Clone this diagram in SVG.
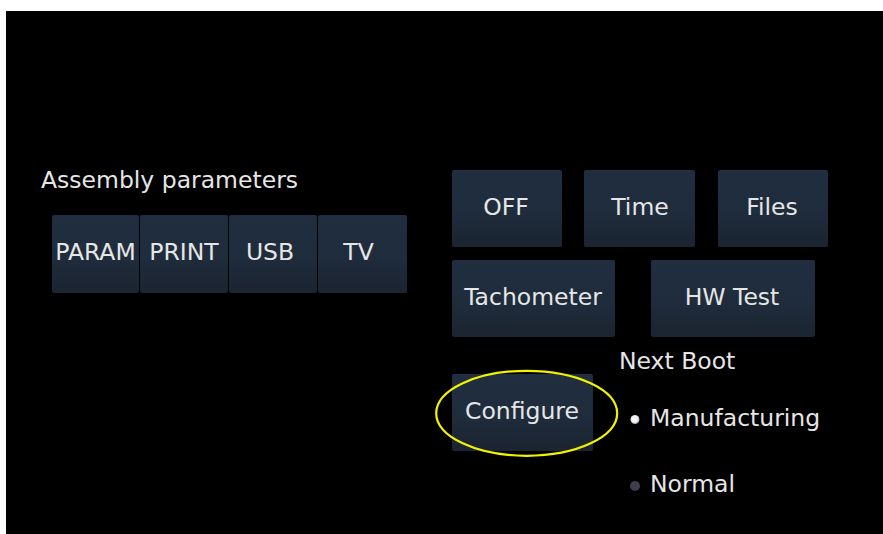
<svg xmlns="http://www.w3.org/2000/svg" width="883" height="534" viewBox="0 0 883 534">
  <defs>
    <linearGradient id="btnFill" x1="0" y1="0" x2="0" y2="1">
      <stop offset="0" stop-color="#202e40"/>
      <stop offset="0.55" stop-color="#1f2c3c"/>
      <stop offset="1" stop-color="#1b2430"/>
    </linearGradient>
    <radialGradient id="dotOn" cx="0.45" cy="0.45" r="0.6">
      <stop offset="0" stop-color="#ffffff"/>
      <stop offset="0.6" stop-color="#f0f0f4"/>
      <stop offset="1" stop-color="#8a8a9a"/>
    </radialGradient>
  </defs>
  <style>
    .btn rect { fill: url(#btnFill); }
    .lbl { font-family: "DejaVu Sans", "Verdana", sans-serif; font-size: 23.5px; fill: #e6e6e6; }
    .btn text { text-anchor: middle; }
  </style>

  <!-- screen -->
  <rect x="0" y="0" width="883" height="534" fill="#ffffff"/>
  <rect x="6" y="11" width="877" height="523" fill="#000000"/>

  <!-- assembly parameters -->
  <text id="assembly-title" class="lbl" x="41" y="188">Assembly parameters</text>
  <g id="btn-param" class="btn"><rect x="52" y="215" width="87" height="78" rx="2"/><text class="lbl" x="95.5" y="260">PARAM</text></g>
  <g id="btn-print" class="btn"><rect x="140" y="215" width="88" height="78" rx="2"/><text class="lbl" x="184" y="260">PRINT</text></g>
  <g id="btn-usb" class="btn"><rect x="229" y="215" width="88" height="78" rx="2"/><text class="lbl" x="270" y="260">USB</text></g>
  <g id="btn-tv" class="btn"><rect x="318" y="215" width="89" height="78" rx="2"/><text class="lbl" x="358.5" y="260">TV</text></g>

  <!-- right panel -->
  <g id="btn-off" class="btn"><rect x="452" y="170" width="110" height="77" rx="2"/><text class="lbl" x="506" y="214.5">OFF</text></g>
  <g id="btn-time" class="btn"><rect x="584" y="170" width="111" height="77" rx="2"/><text class="lbl" x="640" y="214.5">Time</text></g>
  <g id="btn-files" class="btn"><rect x="718" y="170" width="110" height="77" rx="2"/><text class="lbl" x="772" y="214.5">Files</text></g>
  <g id="btn-tachometer" class="btn"><rect x="452" y="260" width="163" height="77" rx="2"/><text class="lbl" x="533" y="305">Tachometer</text></g>
  <g id="btn-hwtest" class="btn"><rect x="651" y="260" width="164" height="77" rx="2"/><text class="lbl" x="732" y="305">HW Test</text></g>
  <g id="btn-configure" class="btn"><rect x="452" y="374" width="141" height="77" rx="2"/><text class="lbl" x="522" y="418.5">Configure</text></g>

  <!-- highlight -->
  <ellipse id="highlight" cx="526.7" cy="413.3" rx="90.5" ry="42.5" fill="none" stroke="#f2f200" stroke-width="2.2"/>

  <!-- next boot selection -->
  <g id="next-boot">
    <text class="lbl" x="619" y="369">Next Boot</text>
    <circle cx="635" cy="419.5" r="4.5" fill="url(#dotOn)"/>
    <text class="lbl" x="650" y="426">Manufacturing</text>
    <circle cx="635" cy="486" r="5" fill="#3e3e4c"/>
    <text class="lbl" x="650" y="492">Normal</text>
  </g>
</svg>
